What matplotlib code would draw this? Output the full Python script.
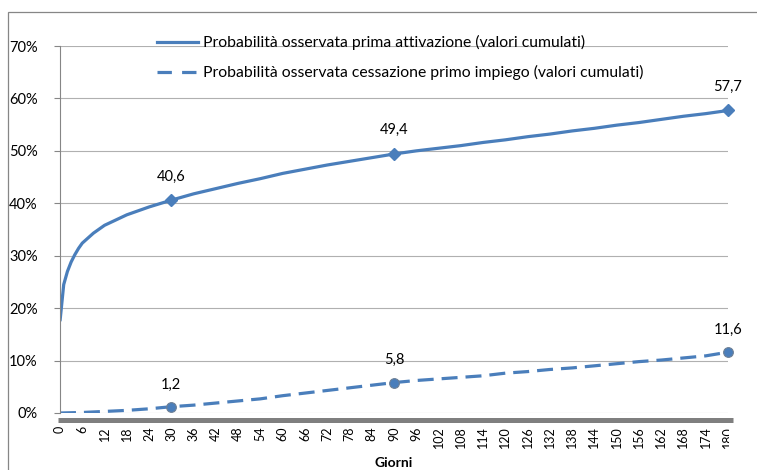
import numpy as np
import matplotlib.pyplot as plt
from matplotlib.lines import Line2D
from matplotlib.patches import Rectangle

plt.rcParams['font.family'] = ['Lato', 'DejaVu Sans']

# --------------------------
# Data
# --------------------------
giorni = [0, 1, 2, 3, 4, 5, 6, 9, 12, 18, 24, 30, 36, 42, 48, 54, 60, 66, 72, 78, 84, 90,
          96, 102, 108, 114, 120, 126, 132, 138, 144, 150, 156, 162, 168, 174, 180]
attivazione = [17.5, 24.5, 27.0, 28.8, 30.2, 31.4, 32.4, 34.3, 35.8, 37.8, 39.3, 40.6,
               41.8, 42.8, 43.8, 44.7, 45.7, 46.5, 47.3, 48.0, 48.7, 49.4,
               50.0, 50.5, 51.0, 51.6, 52.1, 52.7, 53.2, 53.8, 54.3, 54.9, 55.4, 56.0, 56.6, 57.1, 57.7]

giorni_cess = [0, 6, 12, 18, 24, 30, 36, 42, 48, 54, 60, 66, 72, 78, 84, 90,
               96, 102, 108, 114, 120, 126, 132, 138, 144, 150, 156, 162, 168, 174, 180]
cessazione = [0.0, 0.1, 0.3, 0.5, 0.8, 1.2, 1.5, 1.9, 2.3, 2.7, 3.3, 3.8, 4.3, 4.8, 5.3, 5.8,
              6.2, 6.5, 6.8, 7.1, 7.6, 7.9, 8.3, 8.6, 9.0, 9.4, 9.8, 10.1, 10.5, 10.9, 11.6]

giorni_etichette = [30, 90, 180]
label_att = "Probabilità osservata prima attivazione (valori cumulati)"
label_cess = "Probabilità osservata cessazione primo impiego (valori cumulati)"

blue = '#4A7EBB'

# --------------------------
# Plot
# --------------------------
fig = plt.figure(figsize=(7.57, 4.70), dpi=100)
ax = fig.add_axes([60/757, 57/470, 668/757, 367/470])

ax.plot(giorni, attivazione, color=blue, lw=2.3, solid_capstyle='butt')
ax.plot(giorni_cess, cessazione, color=blue, lw=2.3, dashes=(5, 2.5))

for d in giorni_etichette:
    ya = attivazione[giorni.index(d)]
    yc = cessazione[giorni_cess.index(d)]
    ax.plot(d, ya, marker='D', ms=6.5, color=blue, clip_on=False)
    ax.plot(d, yc, marker='o', ms=7, color=blue, mec='#6d7f95', mew=0.8, clip_on=False)
    ax.annotate(f"{ya:.1f}".replace('.', ','), (d, ya), xytext=(0, 12), textcoords='offset points',
                ha='center', va='bottom', fontsize=10.5)
    ax.annotate(f"{yc:.1f}".replace('.', ','), (d, yc), xytext=(0, 11), textcoords='offset points',
                ha='center', va='bottom', fontsize=10.5)

ax.set_xlim(0, 180)
ax.set_ylim(0, 70)
ax.set_yticks(range(0, 71, 10))
ax.set_yticklabels([f"{v}%" for v in range(0, 71, 10)], fontsize=10.5)
ax.set_xticks(range(0, 181, 6))
ax.set_xticklabels([str(v) for v in range(0, 181, 6)], rotation=90, fontsize=9)
ax.tick_params(axis='x', length=0, pad=9.5)
ax.tick_params(axis='y', length=4, color='#868686', pad=12)

ax.grid(axis='y', color='#b0b0b0', lw=0.8)
ax.set_axisbelow(True)
for s in ['top', 'right', 'bottom']:
    ax.spines[s].set_visible(False)
ax.spines['left'].set_color('#868686')

# thick grey band under the category axis
ax.plot([-0.003, 1.0075], [-0.0204, -0.0204], transform=ax.transAxes, color='#7f7f7f',
        lw=3.6, clip_on=False, solid_capstyle='butt')

ax.set_xlabel("Giorni", fontsize=10, fontweight='bold', labelpad=6)

handles = [Line2D([], [], color=blue, lw=2.3),
           Line2D([], [], color=blue, lw=2.3, dashes=(4.5, 3.2))]
fig.legend(handles, [label_att, label_cess], loc='upper left', bbox_to_anchor=(143/757, 1 - 21/470),
           frameon=False, fontsize=11.3, handlelength=2.6, handletextpad=0.35, labelspacing=0.95)

# outer chart frame (cropped on the right and bottom)
fig.patches.append(Rectangle((8/757, -0.1), 1.2, 1.1 - 12/470, transform=fig.transFigure,
                             fill=False, ec='#868686', lw=0.9))
# the picture is cut on the right edge, through the last tick label
fig.patches.append(Rectangle((729/757, 0), 1, 46/470, transform=fig.transFigure,
                             fc='white', ec='none', zorder=10))

fig.savefig('out.png', dpi=100)
